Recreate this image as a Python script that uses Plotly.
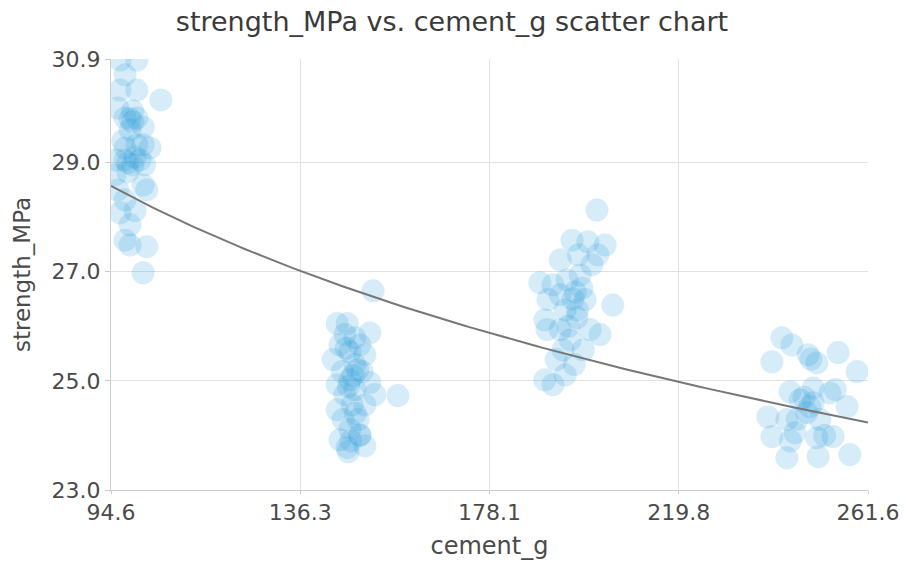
import numpy as np
import plotly.graph_objects as go

cement_g = [
    # cluster ~ 98
    96.6, 100.3, 97.7, 96.6, 100.3, 96.1, 99.4, 101.7, 105.6, 97.7, 100.3, 98.8,
    100.3, 97.7, 101.7, 103.2, 95.7, 97.7, 101.0, 99.4, 102.0, 95.5, 98.3, 101.7,
    96.1, 102.5, 97.7, 96.6, 99.9, 98.8, 97.7, 98.8, 102.5, 101.7,
    98.8, 99.4, 98.3, 99.9, 97.2,
    # cluster ~ 148
    152.4, 144.5, 146.7, 146.2, 148.4, 151.7, 145.1, 149.5, 147.3, 150.6, 143.6,
    148.4, 145.6, 150.0, 147.3, 151.7, 144.5, 148.4, 146.2, 152.8, 157.9, 144.5,
    147.8, 150.6, 145.8, 149.1, 147.3, 149.5, 145.1, 146.7, 150.6, 146.9,
    148.0, 149.0, 147.0, 148.5, 146.5, 149.5, 147.5,
    # cluster ~ 197
    201.8, 196.3, 199.8, 203.6, 197.7, 202.0, 193.7, 200.7, 198.1, 192.1, 189.2,
    195.2, 193.7, 197.0, 191.0, 199.2, 194.8, 190.3, 197.4, 205.3, 193.7, 200.3,
    195.9, 190.8, 202.5, 194.3, 198.8, 192.8, 196.8, 190.3, 192.1, 194.8,
    196.5, 197.5, 195.5, 198.5,
    # cluster ~ 248
    242.6, 240.4, 244.8, 248.4, 250.3, 255.0, 259.2, 244.4, 249.5, 246.6, 254.4,
    257.0, 239.5, 243.7, 248.1, 251.0, 240.4, 245.5, 250.3, 253.9, 243.7, 250.6,
    257.6, 253.2, 248.8,
    249.0, 247.5, 249.5, 246.0, 252.0, 244.5,
]

strength_MPa = [
    # cluster ~ 98
    30.88, 30.88, 30.61, 30.33, 30.33, 30.00, 29.95, 29.65, 30.15, 29.82, 29.82, 29.60,
    29.33, 29.27, 29.33, 29.27, 29.05, 29.05, 29.05, 28.96, 28.96, 28.78, 28.83, 28.59,
    28.50, 28.50, 28.32, 28.08, 28.12, 27.86, 27.58, 27.49, 27.46, 26.98,
    29.80, 29.75, 29.00, 29.10, 29.40,
    # cluster ~ 148
    26.65, 26.05, 26.05, 25.85, 25.79, 25.88, 25.66, 25.66, 25.53, 25.48, 25.39,
    25.30, 25.17, 25.17, 25.02, 24.97, 24.93, 24.84, 24.75, 24.75, 24.73, 24.47,
    24.56, 24.56, 24.29, 24.29, 24.11, 24.01, 23.92, 23.78, 23.81, 23.70,
    25.10, 25.20, 24.90, 24.40, 25.60, 24.00, 23.90,
    # cluster ~ 197
    28.13, 27.58, 27.55, 27.49, 27.31, 27.31, 27.22, 27.13, 26.94, 26.76, 26.80,
    26.85, 26.58, 26.63, 26.49, 26.49, 26.30, 26.12, 26.16, 26.39, 25.94, 25.94,
    25.75, 25.94, 25.85, 25.57, 25.57, 25.39, 25.30, 25.02, 24.93, 25.11,
    26.50, 26.30, 26.00, 26.70,
    # cluster ~ 248
    25.79, 25.35, 25.66, 25.48, 25.33, 25.52, 25.17, 24.80, 24.87, 24.65, 24.84,
    24.53, 24.34, 24.29, 24.42, 24.29, 23.98, 24.05, 23.96, 23.98, 23.59, 23.61,
    23.65, 24.78, 24.53,
    25.40, 24.70, 24.60, 24.30, 24.00, 23.90,
]

x_ticks = [94.6, 136.35, 178.1, 219.85, 261.6]
x_tick_text = ["94.6", "136.3", "178.1", "219.8", "261.6"]
y_ticks = [23.0, 25.0, 27.0, 29.0, 30.9]
y_tick_text = ["23.0", "25.0", "27.0", "29.0", "30.9"]

x = np.array(cement_g)
y = np.array(strength_MPa)

# logarithmic trend line fitted to the data
b, a = np.polyfit(np.log(x), y, 1)
xf = np.linspace(x_ticks[0], x_ticks[-1], 200)
yf = a + b * np.log(xf)

fig = go.Figure()
fig.add_trace(go.Scatter(
    x=x, y=y, mode="markers",
    marker=dict(size=23, color="rgba(35,155,220,0.19)", line=dict(width=0)),
    showlegend=False,
))
fig.add_trace(go.Scatter(
    x=xf, y=yf, mode="lines",
    line=dict(color="#777777", width=2),
    showlegend=False,
))

font_family = "DejaVu Sans"
txt = "#4a4a4a"
fig.update_layout(
    width=904, height=569,
    margin=dict(l=111, r=36, t=59, b=79),
    paper_bgcolor="white", plot_bgcolor="white",
    title=dict(text="strength_MPa vs. cement_g scatter chart",
               x=0.5, xanchor="center", y=0.962, yanchor="middle",
               font=dict(family=font_family, size=27, color="#3a3a3a")),
    font=dict(family=font_family, color=txt),
    xaxis=dict(
        range=[x_ticks[0], x_ticks[-1]], tickvals=x_ticks, ticktext=x_tick_text,
        automargin=False,
        showgrid=True, gridcolor="#e2e2e2", zeroline=False,
        showline=True, linecolor="#cccccc", ticks="outside", ticklen=3,
        tickcolor="#cccccc", tickfont=dict(size=22, color=txt),
        title=dict(text="cement_g", font=dict(size=24, color=txt), standoff=12),
    ),
    yaxis=dict(
        range=[y_ticks[0], y_ticks[-1]], tickvals=y_ticks, ticktext=y_tick_text,
        automargin=False,
        showgrid=True, gridcolor="#e2e2e2", zeroline=False,
        showline=True, linecolor="#cccccc", ticks="outside", ticklen=5,
        tickcolor="#cccccc", tickfont=dict(size=22, color=txt),
        title=dict(text="strength_MPa", font=dict(size=23, color=txt), standoff=14),
    ),
)

fig.write_html("out.html")
